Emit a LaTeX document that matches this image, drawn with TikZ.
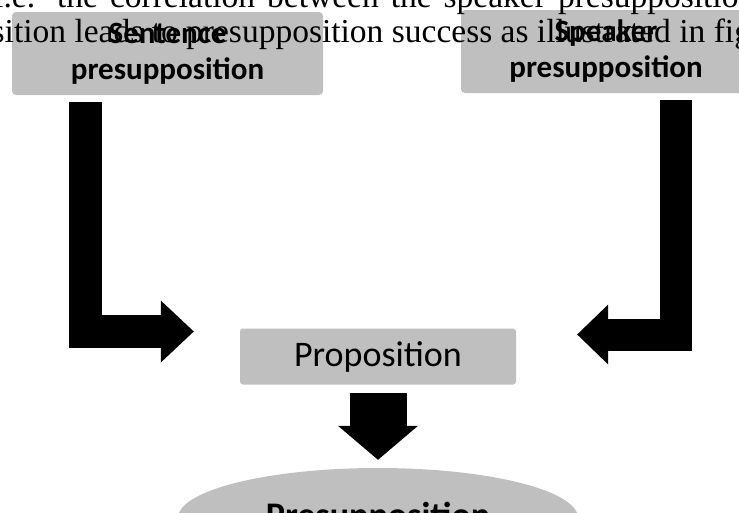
\documentclass[tikz,border=0pt]{standalone}
\usepackage{fontspec}
\setmainfont{Liberation Serif}
\newfontfamily\calibri{Carlito}
\usepackage{xcolor}
\usepackage{tikz}
\usetikzlibrary{shapes.geometric, arrows.meta, positioning}
\definecolor{boxgray}{HTML}{BFBFBF}

\begin{document}
\begin{tikzpicture}[
    x=1pt, y=-1pt,
    % Styles
    topbox/.style={rectangle, fill=boxgray, minimum height=83pt, align=center, rounded corners=4pt, inner sep=0pt, font=\calibri\bfseries\fontsize{31}{36}\selectfont},
    propbox/.style={rectangle, fill=boxgray, minimum width=276pt, minimum height=56pt, rounded corners=3pt, inner sep=0pt, font=\calibri\fontsize{36}{40}\selectfont},
    presellipse/.style={ellipse, fill=boxgray, minimum width=400pt, minimum height=100pt, inner sep=0pt, font=\calibri\bfseries\fontsize{36}{40}\selectfont},
    bodytext/.style={anchor=base west, inner sep=0pt, font=\fontsize{33.5}{35}\selectfont},
    blockarrow/.style={black, line join=miter}
]

% Page frame
\useasboundingbox (0,0) rectangle (739,512);
\clip (0,0) rectangle (739,512);

% Presupposition boxes
\node[topbox, minimum width=311pt] (sent) at (167.5,53.5) {Sentence\\presupposition};
\node[topbox, minimum width=290pt] (spk) at (606,51.5) {Speaker\\presupposition};

% Proposition and result
\node[propbox] (prop) at (378,356.5) {Proposition};
\node[presellipse] (pres) at (378,518) {Presupposition};

% Running text of the page
\node[bodytext] (line1) at (-6,7) {\makebox[761pt][s]{i.e. the correlation between the speaker presupposition}};
\node[bodytext] (line2) at (-42,42) {position leads to presupposition success as illustrated in figure};

% Block arrows
\draw[blockarrow, line width=33pt, -{Triangle[width=62pt, length=33pt, line width=0pt]}]
    ([xshift=-82pt, yshift=-7pt]sent.south) |- ([xshift=-46pt, yshift=25pt]prop.west);
\draw[blockarrow, line width=32pt, -{Triangle[width=60pt, length=31pt, line width=0pt]}]
    ([xshift=70pt, yshift=-7pt]spk.south) |- ([xshift=61pt, yshift=22pt]prop.east);
\draw[blockarrow, line width=57pt, -{Triangle[width=80pt, length=34pt, line width=0pt]}]
    ([yshift=-8pt]prop.south) -- ([yshift=8pt]pres.north);

\end{tikzpicture}
\end{document}
